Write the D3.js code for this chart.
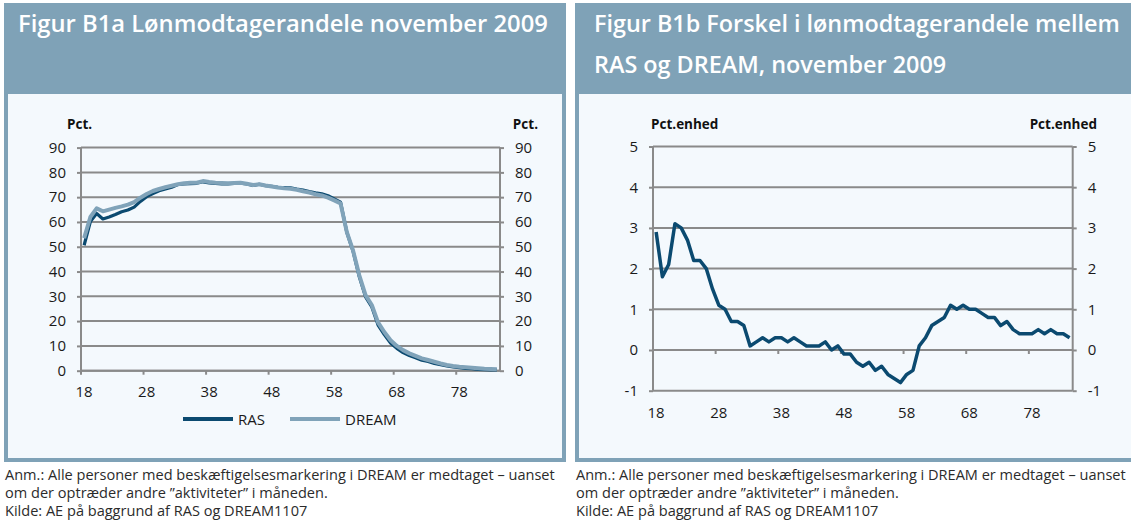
<!DOCTYPE html>
<html><head><meta charset="utf-8">
<script src="https://cdn.jsdelivr.net/npm/d3@7"></script>
<style>
body{margin:0;background:#fff}
svg{display:block}
text{font-family:"Open Sans","Noto Sans",sans-serif}
</style>
</head><body>
<svg id="c" width="1131" height="524"></svg>
<script>
// ---------------- DATA ----------------
const ages = [18,19,20,21,22,23,24,25,26,27,28,29,30,31,32,33,34,35,36,37,38,39,40,41,42,43,44,45,46,47,48,49,50,51,
  52,53,54,55,56,57,58,59,60,61,62,63,64,65,66,67,68,69,70,71,72,73,74,75,76,77,78,79,80,81,82,83,84];
const rasValues = [50.6,60.2,63.4,61.2,62.0,63.0,64.1,64.8,66.0,68.3,70.2,71.5,72.6,73.3,74.0,75.1,75.4,75.5,75.6,76.2,
  75.8,75.6,75.4,75.4,75.6,75.7,75.3,74.7,75.2,74.6,74.4,74.0,73.9,73.8,73.3,72.9,72.3,71.8,71.4,70.6,69.3,68.0,
  55.9,48.2,37.9,29.8,25.7,18.4,14.6,11.2,9.0,7.3,6.1,5.2,4.2,3.7,2.9,2.4,1.9,1.5,1.2,0.9,0.8,0.5,0.4,0.3,0.3];
const dreamValues = [53.5,62.0,65.5,64.3,65.0,65.7,66.3,67.0,68.0,69.8,71.3,72.5,73.3,74.0,74.6,75.2,75.6,75.8,75.8,76.5,
  76.1,75.8,75.7,75.6,75.7,75.8,75.4,74.9,75.2,74.7,74.3,73.9,73.6,73.4,73.0,72.4,71.9,71.2,70.7,69.8,68.7,67.5,
  56.0,48.5,38.5,30.5,26.5,19.5,15.6,12.3,10.0,8.3,7.0,6.0,5.0,4.3,3.6,2.9,2.3,1.9,1.6,1.4,1.2,1.0,0.8,0.7,0.6];
const diffValues = [2.9,1.8,2.1,3.1,3.0,2.7,2.2,2.2,2.0,1.5,1.1,1.0,0.7,0.7,0.6,0.1,0.2,0.3,0.2,0.3,
  0.3,0.2,0.3,0.2,0.1,0.1,0.1,0.2,0.0,0.1,-0.1,-0.1,-0.3,-0.4,-0.3,-0.5,-0.4,-0.6,-0.7,-0.8,-0.6,-0.5,
  0.1,0.3,0.6,0.7,0.8,1.1,1.0,1.1,1.0,1.0,0.9,0.8,0.8,0.6,0.7,0.5,0.4,0.4,0.4,0.5,0.4,0.5,0.4,0.4,0.3];
const xTickLabels = [18,28,38,48,58,68,78];
const yTicksA = [0,10,20,30,40,50,60,70,80,90];
const yTicksB = [-1,0,1,2,3,4,5];
const seriesNames = ["RAS","DREAM"];
const titleA = ["Figur B1a Lønmodtagerandele november 2009"];
const titleB = ["Figur B1b Forskel i lønmodtagerandele mellem","RAS og DREAM, november 2009"];
const unitA = "Pct.";
const unitB = "Pct.enhed";
const notes = ["Anm.: Alle personer med beskæftigelsesmarkering i DREAM er medtaget – uanset",
  "om der optræder andre ”aktiviteter” i måneden.",
  "Kilde: AE på baggrund af RAS og DREAM1107"];

// ---------------- STYLE ----------------
const HEAD = "#7fa2b7", BG = "#f4f9fd", GRID = "#8a8a8a";
const C_RAS = "#0b4a70", C_DREAM = "#80a3b9";
const svg = d3.select("#c");

function fitSize(textSel, target, size){
  textSel.attr("font-size", size);
  const w = textSel.node().getComputedTextLength();
  const s = size * target / w;
  textSel.attr("font-size", s);
  return s;
}

function box(x0, x1, titleLines, tx, firstWidth){
  svg.append("rect").attr("x",x0).attr("y",3).attr("width",x1-x0).attr("height",459).attr("fill",HEAD);
  svg.append("rect").attr("x",x0+4).attr("y",94).attr("width",x1-x0-8).attr("height",364).attr("fill",BG);
  let s = 22;
  titleLines.forEach((t,i)=>{
    const el = svg.append("text").attr("x",tx).attr("y",32+i*41).attr("fill","#fff")
      .attr("font-weight",600).text(t);
    if(i===0) s = fitSize(el, firstWidth, 22); else el.attr("font-size", s);
  });
}
box(4, 566, titleA, 18, 530);
box(575, 1145, titleB, 594, 526);

// footnotes
let fsN = null;
[5, 576].forEach(x=>{
  notes.forEach((t,i)=>{
    const el = svg.append("text").attr("x",x).attr("y",480+i*18).attr("fill","#2b2b2b").text(t);
    if(fsN==null && i===0) fsN = fitSize(el, 550, 14); else el.attr("font-size", fsN);
  });
});

function chart(cfg){
  const g = svg.append("g");
  const x = d3.scalePoint().domain(ages).range([cfg.xl, cfg.xr]).padding(0.5);
  const y = d3.scaleLinear().domain(cfg.yDomain).range([cfg.yb, cfg.yt]);
  const step = x.step();
  // gridlines
  g.append("g").selectAll("line").data(cfg.yTicks).join("line")
    .attr("x1",cfg.xl).attr("x2",cfg.xr).attr("y1",d=>y(d)).attr("y2",d=>y(d))
    .attr("stroke",GRID).attr("stroke-width",2);
  // y axes
  const fmt = d=>String(d);
  const la = g.append("g").attr("transform",`translate(${cfg.xl},0)`)
    .call(d3.axisLeft(y).tickValues(cfg.yTicks).tickSize(4).tickPadding(11).tickFormat(fmt));
  const ra = g.append("g").attr("transform",`translate(${cfg.xr},0)`)
    .call(d3.axisRight(y).tickValues(cfg.yTicks).tickSize(4).tickPadding(11).tickFormat(fmt));
  [la,ra].forEach(a=>{
    a.select(".domain").attr("stroke",GRID).attr("stroke-width",2)
      .attr("d", `M0,${y(cfg.yDomain[0])}V${y(cfg.yDomain[1])}`);
    a.selectAll(".tick line").attr("stroke",GRID).attr("stroke-width",2);
    a.selectAll(".tick text").attr("font-size",15).attr("fill","#1a1a1a")
      .attr("font-family",'"Open Sans",sans-serif');
  });
  // x-axis (category ticks at boundaries)
  const y0 = y(cfg.xAxisAt);
  g.append("line").attr("x1",cfg.xl).attr("x2",cfg.xr).attr("y1",y0).attr("y2",y0)
    .attr("stroke",GRID).attr("stroke-width",2);
  g.append("g").selectAll("line").data(xTickLabels).join("line")
    .attr("x1",d=>x(d)-step/2).attr("x2",d=>x(d)-step/2).attr("y1",y0).attr("y2",y0+4)
    .attr("stroke",GRID).attr("stroke-width",2);
  g.append("g").selectAll("text").data(xTickLabels).join("text")
    .attr("x",d=>x(d)).attr("y",cfg.xLabelY).attr("text-anchor","middle")
    .attr("font-size",15).attr("fill","#1a1a1a").text(d=>d);
  // units
  g.append("text").attr("x",cfg.unitL).attr("y",129).attr("font-size",13.5).attr("font-weight",700)
    .attr("fill","#111").text(cfg.unit);
  g.append("text").attr("x",cfg.unitR).attr("y",129).attr("font-size",13.5).attr("font-weight",700)
    .attr("text-anchor","end").attr("fill","#111").text(cfg.unit);
  // series
  cfg.series.forEach(s=>{
    const line = d3.line().x((d,i)=>x(ages[i])).y(d=>y(d));
    g.append("path").datum(s.values).attr("d",line).attr("fill","none")
      .attr("stroke",s.color).attr("stroke-width",s.width)
      .attr("stroke-linejoin","round").attr("stroke-linecap","butt");
  });
  return {x,y,g};
}

chart({xl:81, xr:500, yt:147.6, yb:370.7, yDomain:[0,90], yTicks:yTicksA, xAxisAt:0,
  xLabelY:397, unit:unitA, unitL:67, unitR:538,
  series:[{values:rasValues,color:C_RAS,width:3.2},{values:dreamValues,color:C_DREAM,width:4}]});

chart({xl:653, xr:1072.7, yt:146.5, yb:390.7, yDomain:[-1,5], yTicks:yTicksB, xAxisAt:0,
  xLabelY:418, unit:unitB, unitL:651, unitR:1097,
  series:[{values:diffValues,color:C_RAS,width:3.5}]});

// legend (left chart)
const legend = svg.append("g");
const legItems = [{name:seriesNames[0],color:C_RAS,x:183},{name:seriesNames[1],color:C_DREAM,x:290}];
legItems.forEach(it=>{
  legend.append("line").attr("x1",it.x).attr("x2",it.x+50).attr("y1",419).attr("y2",419)
    .attr("stroke",it.color).attr("stroke-width",4);
  legend.append("text").attr("x",it.x+55).attr("y",424.5).attr("font-size",15).attr("fill","#1a1a1a").text(it.name);
});
</script>
</body></html>
